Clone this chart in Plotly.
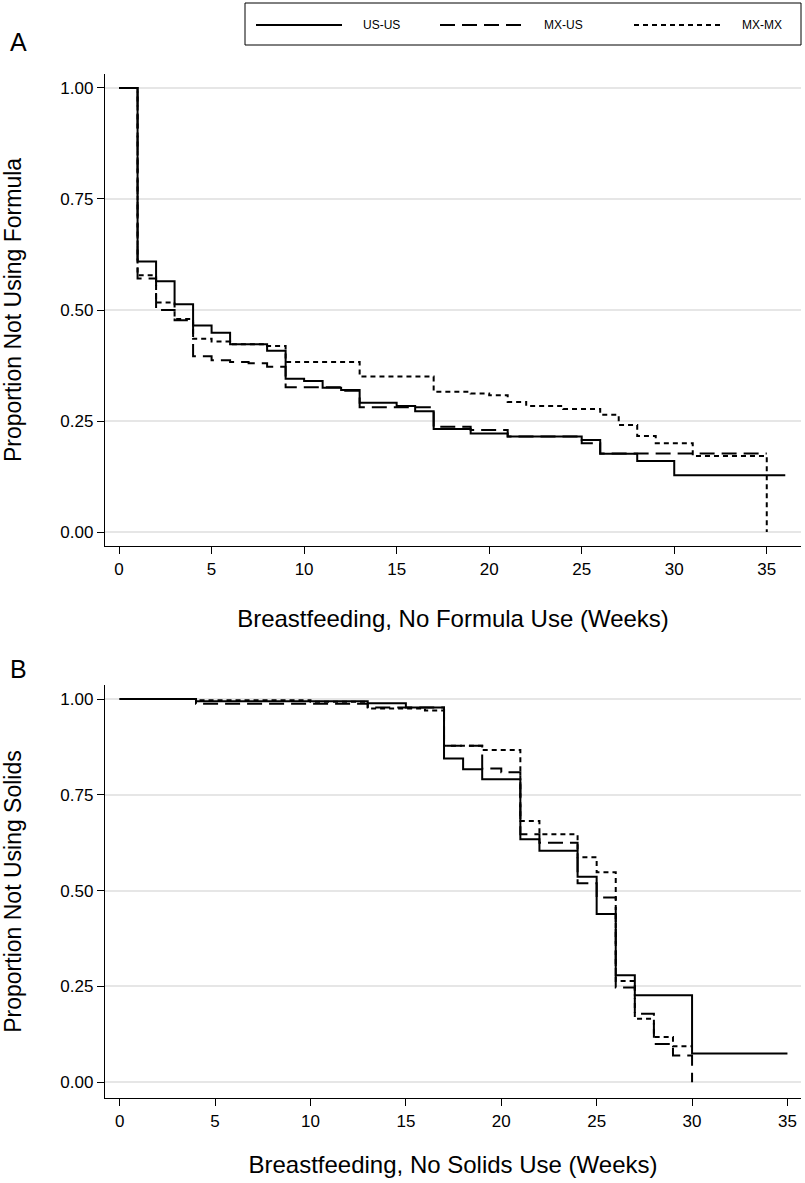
import plotly.graph_objects as go

# ---------------- data ----------------
# Panel A: proportion not using formula
a_usus_t = [0, 1, 2, 3, 4, 5, 6, 8, 9, 10, 11, 12, 13, 15, 16, 17, 19, 21, 25, 26, 28, 30, 36]
a_usus_s = [1.0, 0.609, 0.565, 0.513, 0.465, 0.449, 0.423, 0.408, 0.345, 0.340, 0.325, 0.320,
            0.291, 0.284, 0.272, 0.232, 0.222, 0.215, 0.207, 0.176, 0.160, 0.128, 0.128]

a_mxus_t = [0, 1, 2, 3, 4, 5, 6, 7, 8, 9, 12, 13, 17, 19, 21, 25, 26, 35]
a_mxus_s = [1.0, 0.571, 0.500, 0.477, 0.396, 0.387, 0.383, 0.380, 0.372, 0.326, 0.318, 0.281,
            0.237, 0.230, 0.215, 0.200, 0.177, 0.177]

a_mxmx_t = [0, 1, 2, 3, 4, 5, 6, 8, 9, 13, 17, 19, 20, 21, 22, 24, 26, 27, 28, 29, 31, 35]
a_mxmx_s = [1.0, 0.578, 0.517, 0.480, 0.435, 0.429, 0.423, 0.419, 0.383, 0.350, 0.316, 0.312,
            0.308, 0.293, 0.284, 0.277, 0.264, 0.241, 0.216, 0.200, 0.171, 0.0]

# Panel B: proportion not using solids
b_usus_t = [0, 4, 13, 15, 17, 18, 19, 21, 22, 24, 25, 26, 27, 30, 35]
b_usus_s = [1.0, 0.994, 0.989, 0.978, 0.845, 0.817, 0.791, 0.634, 0.604, 0.536, 0.439,
            0.279, 0.227, 0.075, 0.075]

b_mxus_t = [0, 4, 13, 17, 19, 20, 21, 22, 24, 25, 26, 27, 28, 29, 30]
b_mxus_s = [1.0, 0.988, 0.978, 0.878, 0.819, 0.809, 0.647, 0.625, 0.519, 0.482, 0.247,
            0.179, 0.100, 0.070, 0.0]

b_mxmx_t = [0, 4, 10, 13, 16, 17, 19, 21, 22, 24, 25, 26, 27, 28, 29, 30]
b_mxmx_s = [1.0, 0.997, 0.993, 0.975, 0.970, 0.878, 0.867, 0.682, 0.647, 0.587, 0.548,
            0.264, 0.166, 0.118, 0.094, 0.094]

group_names = ["US-US", "MX-US", "MX-MX"]
y_ticks = [0.0, 0.25, 0.5, 0.75, 1.0]
x_ticks = [0, 5, 10, 15, 20, 25, 30, 35]
title_a_y = "Proportion Not Using Formula"
title_a_x = "Breastfeeding, No Formula Use (Weeks)"
title_b_y = "Proportion Not Using Solids"
title_b_x = "Breastfeeding, No Solids Use (Weeks)"

# ---------------- styling ----------------
FONT = "Liberation Sans, Arial, Helvetica, sans-serif"
dashes = {"US-US": "solid", "MX-US": "15px,7px", "MX-MX": "5px,4px"}
LW = 2

W, H = 805, 1183
ML, MR, MT, MB = 105, 4, 74, 85
PW = W - ML - MR
PH = H - MT - MB


def px_x(px):
    return (px - ML) / PW


def px_y(py):
    return (H - MB - py) / PH


fig = go.Figure()

panels = [
    ("x", "y", [(a_usus_t, a_usus_s), (a_mxus_t, a_mxus_s), (a_mxmx_t, a_mxmx_s)]),
    ("x2", "y2", [(b_usus_t, b_usus_s), (b_mxus_t, b_mxus_s), (b_mxmx_t, b_mxmx_s)]),
]
for xa, ya, series in panels:
    for name, (t, s) in zip(group_names, series):
        fig.add_trace(go.Scatter(
            x=t, y=s, mode="lines", name=name, showlegend=False,
            line=dict(color="black", width=LW, dash=dashes[name], shape="hv"),
            xaxis=xa, yaxis=ya, hoverinfo="skip",
        ))

axis_common = dict(
    showline=True, linecolor="black", linewidth=1.3, mirror=False,
    ticks="outside", ticklen=7, tickwidth=1.3, tickcolor="black",
    zeroline=False, automargin=False,
    tickfont=dict(family=FONT, size=17, color="black"),
)

fig.update_layout(
    width=W, height=H,
    margin=dict(l=ML, r=MR, t=MT, b=MB),
    paper_bgcolor="white", plot_bgcolor="white",
    font=dict(family=FONT, color="black"),
    xaxis=dict(domain=[0, 1], anchor="y", range=[-0.76, 36.85], tickvals=x_ticks,
               showgrid=False,
               title=dict(text=title_a_x, font=dict(family=FONT, size=24), standoff=32),
               **axis_common),
    yaxis=dict(domain=[px_y(546), px_y(74)], anchor="x", range=[-0.0315, 1.0315],
               tickvals=y_ticks, tickformat=".2f",
               showgrid=True, gridcolor="#e6e6e6", gridwidth=1.6,
               title=dict(text=title_a_y, font=dict(family=FONT, size=23), standoff=35),
               **axis_common),
    xaxis2=dict(domain=[0, 1], anchor="y2", range=[-0.77, 35.71], tickvals=x_ticks,
                showgrid=False,
                title=dict(text=title_b_x, font=dict(family=FONT, size=24), standoff=26),
                **axis_common),
    yaxis2=dict(domain=[0, px_y(685)], anchor="x2", range=[-0.041, 1.0366],
                tickvals=y_ticks, tickformat=".2f",
                showgrid=True, gridcolor="#e6e6e6", gridwidth=1.6,
                title=dict(text=title_b_y, font=dict(family=FONT, size=23), standoff=35),
                **axis_common),
)

# Legend box drawn in paper coordinates (decoration)
ly = px_y(25)
fig.add_shape(type="rect", xref="paper", yref="paper",
              x0=px_x(245), x1=px_x(801), y0=px_y(45), y1=px_y(3),
              line=dict(color="black", width=1), fillcolor="white", layer="above")
sample_px = [(256, 342, 361), (440, 527, 542), (634, 722, 740)]
for name, (a, b, tx) in zip(group_names, sample_px):
    fig.add_shape(type="line", xref="paper", yref="paper",
                  x0=px_x(a), x1=px_x(b), y0=ly, y1=ly,
                  line=dict(color="black", width=LW, dash=dashes[name]))
    fig.add_annotation(x=px_x(tx), y=ly, xref="paper", yref="paper", text=name,
                       showarrow=False, xanchor="left", yanchor="middle",
                       font=dict(family=FONT, size=12, color="black"))

# Panel letters
fig.add_annotation(x=px_x(8), y=px_y(42), xref="paper", yref="paper", text="A",
                   showarrow=False, xanchor="left", yanchor="middle",
                   font=dict(family=FONT, size=25, color="black"))
fig.add_annotation(x=px_x(8), y=px_y(669), xref="paper", yref="paper", text="B",
                   showarrow=False, xanchor="left", yanchor="middle",
                   font=dict(family=FONT, size=25, color="black"))

fig.write_html("out.html",
               config={"displayModeBar": False},
               post_script="document.body.style.margin='0';document.body.style.overflow='hidden';")
